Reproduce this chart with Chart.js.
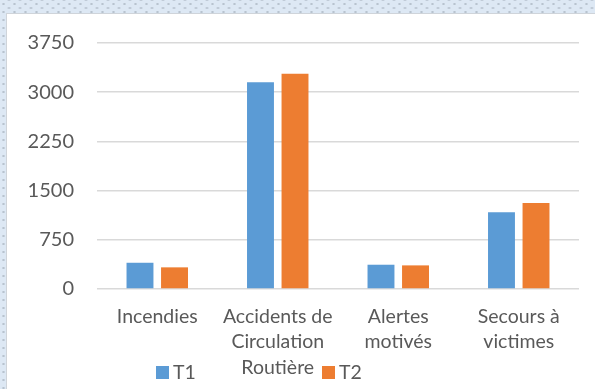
<!DOCTYPE html>
<html>
<head>
<meta charset="utf-8">
<script src="https://cdn.jsdelivr.net/npm/chart.js@4.4.1/dist/chart.umd.min.js"></script>
<style>
  html, body { margin: 0; padding: 0; }
  body {
    width: 595px; height: 389px; overflow: hidden; position: relative;
    background-color: #dde8f4;
    background-image:
      radial-gradient(circle, #b8c3cf 0.9px, transparent 1.4px),
      radial-gradient(circle, #b8c3cf 0.9px, transparent 1.4px);
    background-size: 11px 8px, 11px 8px;
    background-position: -2px 0, 3.5px 4px;
  }
  #box {
    position: absolute; left: 6px; top: 13px; right: 0; bottom: 0;
    background: #fff;
    border-left: 1px solid #cfd4da; border-top: 1px solid #cfd4da;
  }
  canvas { display: block; }
</style>
</head>
<body>
<div id="box"><canvas id="myChart" width="588" height="375"></canvas></div>
<script>
const categories = ["Incendies", ["Accidents de", "Circulation", "Routière"], ["Alertes", "motivés"], ["Secours à", "victimes"]];
const t1Values = [400, 3150, 370, 1170];
const t2Values = [330, 3280, 360, 1310];
const yTicks = [0, 750, 1500, 2250, 3000, 3750];

const textColor = '#595959';
const fontFamily = 'Lato, "Open Sans", sans-serif';

// legend sits on the bottom row, over the axis labels, like the workbook chart
const bottomLegend = {
  id: 'bottomLegend',
  afterDraw: (chart) => {
    const ctx = chart.ctx;
    const spots = [149, 315];
    ctx.save();
    ctx.font = '19.5px ' + fontFamily;
    ctx.textBaseline = 'middle';
    chart.data.datasets.forEach((ds, i) => {
      ctx.fillStyle = ds.backgroundColor;
      ctx.fillRect(spots[i], 352, 13, 13);
      ctx.fillStyle = textColor;
      ctx.fillText(ds.label, spots[i] + 17, 359);
    });
    ctx.restore();
  }
};

const ctx = document.getElementById('myChart').getContext('2d');
const chart = new Chart(ctx, {
  type: 'bar',
  data: {
    labels: categories,
    datasets: [
      { label: 'T1', data: t1Values, backgroundColor: '#5b9bd5', categoryPercentage: 0.573, barPercentage: 0.78 },
      { label: 'T2', data: t2Values, backgroundColor: '#ed7d31', categoryPercentage: 0.573, barPercentage: 0.78 }
    ]
  },
  options: {
    responsive: false,
    animation: false,
    layout: { padding: { top: 29, right: 16, left: 0, bottom: 0 } },
    plugins: { legend: { display: false }, tooltip: { enabled: false } },
    scales: {
      x: {
        grid: { display: false, drawTicks: false },
        border: { display: false },
        ticks: { color: textColor, font: { family: fontFamily, size: 19.5, lineHeight: 1.3 }, padding: 15, maxRotation: 0, autoSkip: false },
        afterFit: (axis) => { axis.height = 100; axis.paddingLeft = 0; axis.paddingRight = 0; }
      },
      y: {
        min: 0,
        max: 3750,
        afterBuildTicks: (axis) => { axis.ticks = yTicks.map((v) => ({ value: v })); },
        grid: { color: '#d9d9d9', lineWidth: 1.5, drawTicks: false },
        border: { display: false },
        ticks: { color: textColor, font: { family: fontFamily, size: 20 }, padding: 23, callback: (v) => String(v) },
        afterFit: (axis) => { axis.width = 90; axis.paddingTop = 0; axis.paddingBottom = 0; }
      }
    }
  },
  plugins: [bottomLegend]
});
</script>
</body>
</html>
